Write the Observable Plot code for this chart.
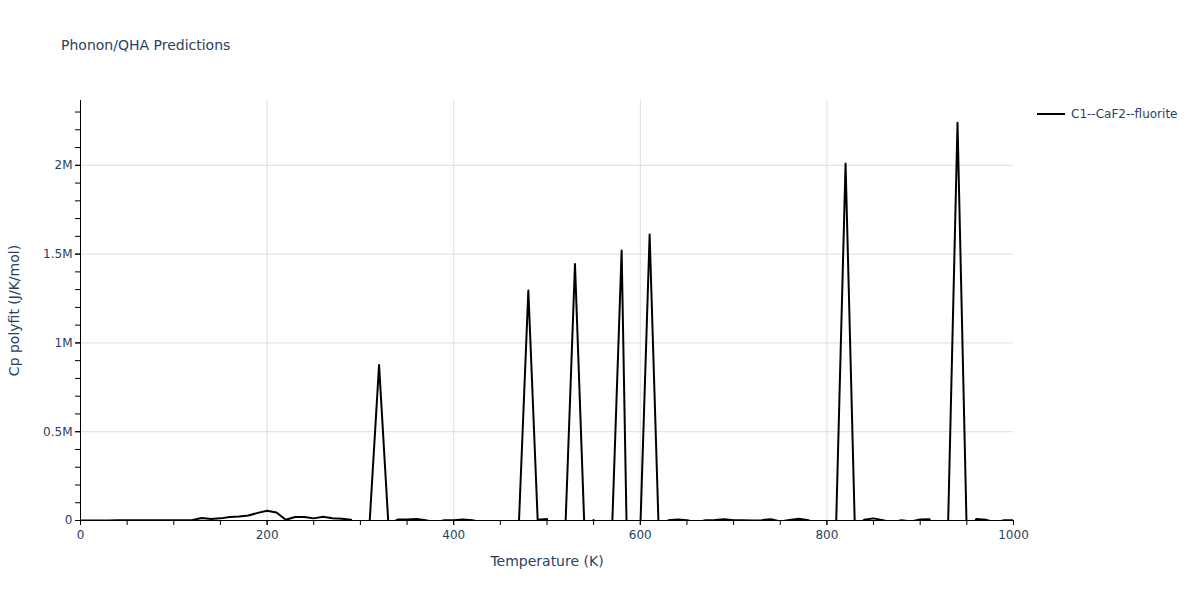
<!DOCTYPE html>
<html><head><meta charset="utf-8">
<script src="https://cdn.jsdelivr.net/npm/d3@7"></script>
<script src="https://cdn.jsdelivr.net/npm/@observablehq/plot@0.6"></script>
<style>
body{margin:0;background:#fff;font-family:"DejaVu Sans",Verdana,sans-serif;}
#wrap{position:relative;width:1200px;height:600px;}
#title{position:absolute;left:61px;top:37px;font-size:14px;color:#2a3f5f;white-space:nowrap;}
#legend{position:absolute;left:1036px;top:107px;font-size:12px;color:#2a3f5f;display:flex;align-items:center;white-space:nowrap;}
#legend svg{margin-right:5px;}
</style></head><body>
<div id="wrap">
<div id="title">Phonon/QHA Predictions</div>
<div id="legend"><svg width="30" height="6"><line x1="1" x2="29" y1="3" y2="3" stroke="#000" stroke-width="2"/></svg><span>C1--CaF2--fluorite</span></div>
</div>
<script>
const seriesName = "C1--CaF2--fluorite";
const temps = [0,10,20,30,40,50,60,70,80,90,100,110,120,130,140,150,160,170,180,190,200,210,220,230,240,250,260,270,280,290,300,310,320,330,340,350,360,370,380,390,400,410,420,430,440,450,460,470,480,490,500,510,520,530,540,550,560,570,580,590,600,610,620,630,640,650,660,670,680,690,700,710,720,730,740,750,760,770,780,790,800,810,820,830,840,850,860,870,880,890,900,910,920,930,940,950,960,970,980,990,1000];
const cp = [0,0,0,0,1000,1000,1000,2000,1000,1000,2000,2000,3000,14000,9000,12000,20000,22000,28000,43000,55000,45000,4000,20000,20000,12000,21000,13000,10000,4000,-300000,0,875000,-20000,5000,6000,8000,1000,-10000,1000,2000,5000,2000,-10000,-50000,-100000,-50000,0,1295000,4000,8000,-300000,0,1444000,-30000,2000,-500000,-10000,1520000,-1400000,-50000,1610000,-100000,1000,6000,1000,-10000,1000,3000,7000,2000,1000,0,2000,7000,-5000,3000,10000,2000,-20000,-300000,0,2010000,-50000,4000,12000,1000,-10000,2000,-5000,6000,7000,-300000,0,2240000,-100000,8000,4000,-10000,1000,2000];
const xMajorTicks = [0,200,400,600,800,1000];
const xMinorTicks = [0,50,100,150,200,250,300,350,400,450,500,550,600,650,700,750,800,850,900,950,1000];
const yMajorTicks = [0,500000,1000000,1500000,2000000];
const yMinorTicks = [0,100000,200000,300000,400000,500000,600000,700000,800000,900000,1000000,1100000,1200000,1300000,1400000,1500000,1600000,1700000,1800000,1900000,2000000,2100000,2200000,2300000];
const xTitle = "Temperature (K)";
const yTitle = "Cp polyfit (J/K/mol)";

const data = temps.map((t,i)=>({T:t, cp:cp[i]}));
const fmtY = v => v === 0 ? "0" : (v/1e6) + "M";
const fmtX = v => String(v);
const txt = "#2a3f5f";

const chart = Plot.plot({
  width:1200, height:600,
  marginLeft:80, marginRight:187, marginTop:100, marginBottom:80,
  x:{domain:[0,1000]},
  y:{domain:[0,2365000]},
  style:{fontFamily:"'DejaVu Sans', Verdana, sans-serif", fontSize:"12px", color:txt, background:"#fff"},
  marks:[
    Plot.gridX(xMajorTicks.filter(v=>v>0 && v<1000), {stroke:"#dedede", strokeOpacity:1}),
    Plot.gridY(yMajorTicks.filter(v=>v>0), {stroke:"#dedede", strokeOpacity:1}),
    Plot.lineY(data, {x:"T", y:"cp", stroke:"#000", strokeWidth:2, clip:true}),
    Plot.axisX({ticks:xMinorTicks, tickSize:5, tickFormat:()=>"", label:null, stroke:"#000"}),
    Plot.axisX({ticks:xMajorTicks, tickSize:5, tickPadding:5, tickFormat:fmtX, label:null, stroke:"#000", fill:txt}),
    Plot.axisY({ticks:yMinorTicks, tickSize:5, tickFormat:()=>"", label:null, stroke:"#000"}),
    Plot.axisY({ticks:yMajorTicks, tickSize:5, tickPadding:3, tickFormat:fmtY, label:null, stroke:"#000", fill:txt}),
    Plot.ruleX([0], {stroke:"#000", strokeWidth:1}),
    Plot.ruleY([0], {stroke:"#000", strokeWidth:1}),
    Plot.text([xTitle], {frameAnchor:"bottom", dy:45, fontSize:14, fill:txt}),
    Plot.text([yTitle], {frameAnchor:"left", textAnchor:"middle", dx:-66, rotate:-90, fontSize:14, fill:txt})
  ]
});
chart.style.position = "absolute";
chart.style.left = "0";
chart.style.top = "0";
chart.querySelectorAll("clipPath rect").forEach(r=>{
  const h = +r.getAttribute("height");
  if (h) r.setAttribute("height", h + 1);
});
const wrap = document.getElementById("wrap");
wrap.insertBefore(chart, wrap.firstChild);
</script>
</body></html>
